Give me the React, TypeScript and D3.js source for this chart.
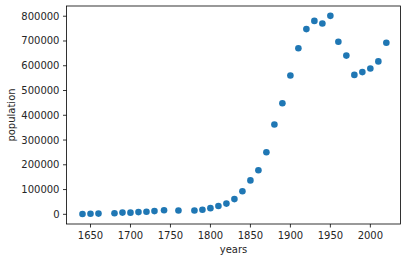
import React from "react";
import * as d3 from "d3";

const years = [
  1640, 1650, 1660, 1680, 1690, 1700, 1710, 1720, 1730, 1742, 1760, 1780,
  1790, 1800, 1810, 1820, 1830, 1840, 1850, 1860, 1870, 1880, 1890, 1900,
  1910, 1920, 1930, 1940, 1950, 1960, 1970, 1980, 1990, 2000, 2010, 2020,
];
const population = [
  1200, 2000, 3000, 4500, 7000, 6700, 9000, 10567, 13000, 16382, 15631, 15520,
  18320, 24937, 33787, 43298, 61392, 93383, 136881, 177840, 250526, 362839,
  448477, 560892, 670585, 748060, 781188, 770816, 801444, 697197, 641071,
  562994, 574283, 589141, 617594, 692600,
];
const xTicks = [1650, 1700, 1750, 1800, 1850, 1900, 1950, 2000];
const yTicks = [0, 100000, 200000, 300000, 400000, 500000, 600000, 700000, 800000];

const W = 408;
const H = 262;
const left = 66.5;
const right = 400.5;
const top = 6;
const bottom = 224;

export default function App() {
  const x = d3.scaleLinear().domain([1620, 2037.7]).range([left, right]);
  const y = d3.scaleLinear().domain([-39100, 841300]).range([bottom, top]);
  const font = "DejaVu Sans, sans-serif";

  return (
    <svg
      width={W}
      height={H}
      style={{ position: "absolute", left: 0, top: 0, background: "#fff" }}
      fontFamily={font}
    >
      {/* x ticks */}
      {xTicks.map((t) => (
        <g key={"x" + t} transform={`translate(${x(t)},${bottom})`}>
          <line y1={0} y2={3.5} stroke="#000" strokeWidth={0.8} />
          <text y={15} textAnchor="middle" fontSize={10} fill="#262626">
            {t}
          </text>
        </g>
      ))}
      {/* y ticks */}
      {yTicks.map((t) => (
        <g key={"y" + t} transform={`translate(${left},${y(t)})`}>
          <line x1={0} x2={-3.5} stroke="#000" strokeWidth={0.8} />
          <text x={-7} dy="0.35em" textAnchor="end" fontSize={10} fill="#262626">
            {t}
          </text>
        </g>
      ))}
      {/* points */}
      {years.map((yr, i) => (
        <circle key={yr} cx={x(yr)} cy={y(population[i])} r={3.3} fill="#1f77b4" />
      ))}
      <rect
        x={left}
        y={top}
        width={right - left}
        height={bottom - top}
        fill="none"
        stroke="#000"
        strokeWidth={0.8}
      />
      <text x={(left + right) / 2} y={252.5} textAnchor="middle" fontSize={10} fill="#262626">
        years
      </text>
      <text
        transform={`translate(14.5,${(top + bottom) / 2}) rotate(-90)`}
        textAnchor="middle"
        fontSize={10}
        fill="#262626"
      >
        population
      </text>
    </svg>
  );
}
